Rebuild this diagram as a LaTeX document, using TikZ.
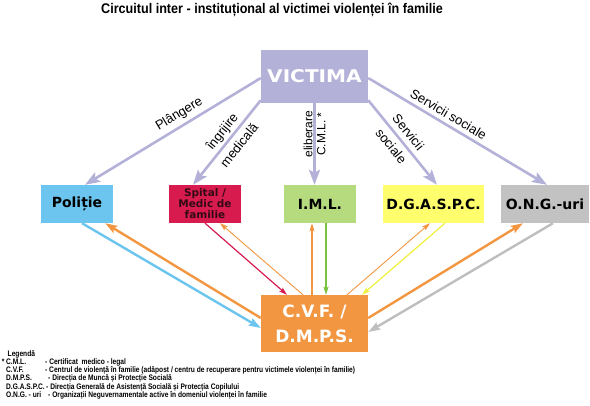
\documentclass[tikz,border=0pt]{standalone}
\usepackage{fontspec}
\usepackage{tikz}
\usetikzlibrary{arrows.meta}
\setmainfont{Liberation Sans}
\newfontfamily\boxfont{DejaVu Sans}
\newfontfamily\widefont[FakeStretch=1.15]{DejaVu Sans}
\newfontfamily\narrowfont[FakeStretch=0.9]{Liberation Sans}
\newfontfamily\legendfont[FakeStretch=0.83]{Liberation Sans}
\definecolor{lila}{RGB}{180,177,217}
\definecolor{hellblau}{RGB}{108,197,238}
\definecolor{karmin}{RGB}{216,27,79}
\definecolor{spitaltext}{RGB}{50,10,20}
\definecolor{hellgruen}{RGB}{181,219,126}
\definecolor{gruen}{RGB}{124,194,66}
\definecolor{gelb}{RGB}{255,255,110}
\definecolor{gelbpfeil}{RGB}{240,240,60}
\definecolor{grau}{RGB}{194,194,194}
\definecolor{graupfeil}{RGB}{190,190,190}
\definecolor{cvforange}{RGB}{242,150,65}

\begin{document}
\begin{tikzpicture}[x=1pt, y=-1pt,
    kasten/.style={minimum width=72pt, minimum height=38pt, inner sep=0pt, align=center,
        font=\boxfont\bfseries\fontsize{14}{14}\selectfont},
    zuweisung/.style={draw=lila, line width=2.6pt, -{Stealth[length=15pt, width=11pt, inset=3pt]}},
    dick/.style={line width=2.4pt, -{Stealth[length=12pt, width=8pt, inset=2pt]}},
    duenn/.style={line width=1.2pt, -{Stealth[length=8pt, width=5pt, inset=1.5pt]}},
    etikett/.style={font=\fontsize{13}{22}\selectfont, align=center, inner sep=1pt}]
    \useasboundingbox (0,0) rectangle (590,405);

    % Titel
    \node[anchor=base, font=\narrowfont\bfseries\fontsize{14}{14}\selectfont] (titel) at (272,13)
        {Circuitul inter - instituțional al victimei violenței în familie};

    % Kästen
    \node[kasten, fill=lila, minimum width=107pt, minimum height=53pt, text=white,
        font=\widefont\bfseries\fontsize{17.5}{18}\selectfont] (victima) at (314.5,76.5) {VICTIMA};
    \node[kasten, fill=hellblau] (politie) at (77,204) {Poliție};
    \node[kasten, fill=karmin, text=spitaltext,
        font=\boxfont\bfseries\fontsize{10.5}{11}\selectfont] (spital) at (205,204) {Spital /\\Medic de\\familie};
    \node[kasten, fill=hellgruen] (iml) at (320,204) {I.M.L.};
    \node[kasten, fill=gelb, minimum width=101pt] (dgaspc) at (433.5,204) {D.G.A.S.P.C.};
    \node[kasten, fill=grau, minimum width=88pt] (ong) at (545,204) {O.N.G.-uri};
    \node[kasten, fill=cvforange, minimum width=107pt, minimum height=57pt, text=white,
        font=\boxfont\bfseries\fontsize{17}{25}\selectfont] (cvf) at (314.5,323.5) {C.V.F. /\\D.M.P.S.};

    % Pfeile von der Victima aus
    \draw[zuweisung] ([yshift=-1.5pt]victima.west) -- node[etikett, sloped, above=3pt, pos=0.43] (plangere) {Plângere} ([xshift=8pt]politie.north);
    \draw[zuweisung] ([yshift=3pt]victima.south west) -- node[etikett, sloped, pos=0.45] (ingrijire) {îngrijire\\medicală} ([xshift=-12pt]spital.north);
    \draw[zuweisung] (victima.south) -- node[etikett, rotate=90, pos=0.38, font=\fontsize{12}{13}\selectfont] (eliberare) {eliberare\\C.M.L. *} (victima.south |- iml.north);
    \draw[zuweisung] ([yshift=3pt]victima.south east) -- node[etikett, sloped, pos=0.46] (servicii) {Servicii\\sociale} ([xshift=3.5pt]dgaspc.north);
    \draw[zuweisung] ([yshift=-1.5pt]victima.east) -- node[etikett, sloped, above=3pt, pos=0.42] (serviciisoc) {Servicii sociale} ([xshift=2pt]ong.north);

    % Pfeile zwischen C.V.F. und den Institutionen
    \draw[dick, hellblau] ([xshift=5pt]politie.south) -- ([yshift=-4.5pt]cvf.west);
    \draw[dick, cvforange] ([yshift=5.5pt]cvf.west) -- ([xshift=-8pt]politie.south east);
    \draw[duenn, karmin] (spital.south) -- ([xshift=-27.5pt]cvf.north);
    \draw[duenn, cvforange, line width=0.9pt] ([xshift=-11.5pt]cvf.north) -- ([xshift=15pt]spital.south);
    \draw[duenn, cvforange] ([xshift=-2.5pt]cvf.north) -- ([xshift=-8pt]iml.south);
    \draw[duenn, gruen, line width=1.6pt] ([xshift=6pt]iml.south) -- ([xshift=11.5pt]cvf.north);
    \draw[duenn, cvforange, line width=0.9pt] ([xshift=32.5pt]cvf.north) -- ([xshift=-3.5pt]dgaspc.south);
    \draw[duenn, gelbpfeil] ([xshift=11.5pt]dgaspc.south) -- ([xshift=47.5pt]cvf.north);
    \draw[dick, cvforange] ([yshift=5.5pt]cvf.east) -- ([xshift=-22pt]ong.south);
    \draw[dick, graupfeil] ([xshift=8pt]ong.south) -- ([yshift=-8.5pt]cvf.east);

    % Legende
    \node[anchor=base west, inner sep=0pt, font=\legendfont\bfseries\fontsize{8}{8}\selectfont] (legende) at (6,356) {%
        \begin{tabular}[t]{@{}p{39pt}@{}l@{}}
            \hspace{1.5pt}Legendă & \\
            \leavevmode\llap{* }C.M.L. & - Certificat\ \ medico - legal\\
            C.V.F. & - Centrul de violență în familie (adăpost / centru de recuperare pentru victimele violenței în familie)\\
            D.M.P.S. & \hspace{3pt}- Direcția de Muncă și Protecție Socială\\
            D.G.A.S.P.C. & \hspace{1pt}- Direcția Generală de Asistență Socială și Protecția Copilului\\
            O.N.G. - uri & \hspace{3pt}- Organizații Neguvernamentale active în domeniul violenței în familie
        \end{tabular}};
\end{tikzpicture}
\end{document}
